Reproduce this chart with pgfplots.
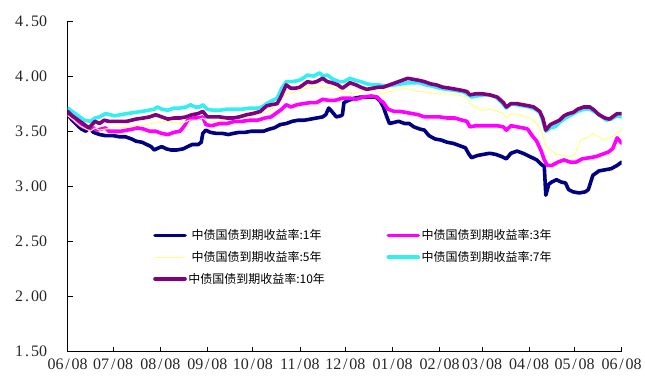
\documentclass[border=0pt]{standalone}
\usepackage{pgfplots}
\pgfplotsset{compat=1.18}
\usepackage{fontspec}
\setmainfont{Liberation Serif}
\newfontfamily\cjk{Noto Sans CJK SC}

\definecolor{c1y}{HTML}{000080}
\definecolor{c3y}{HTML}{FF00FF}
\definecolor{c5y}{HTML}{FFFF80}
\definecolor{c7y}{HTML}{33F0F0}
\definecolor{c10y}{HTML}{800080}

% fixed-width cell so that punctuation takes a full digit width
\newcommand{\cell}[1]{\makebox[0.5em][c]{#1}}

\begin{document}
\begin{tikzpicture}
\useasboundingbox (-67.7bp,-24.3bp) rectangle (577.3bp,351.7bp);
\begin{axis}[
  at={(0,0)}, anchor=south west,
  scale only axis, width=554bp, height=330.7bp,
  xmin=0, xmax=365, ymin=1.5, ymax=4.5,
  axis x line*=bottom, axis y line*=left,
  axis line style={line width=0.8bp, black},
  tick align=inside, major tick length=5bp,
  tick style={line width=0.8bp, black},
  xtick={0,30,61,92,122,153,183,214,245,273,304,334,365},
  xticklabels={06\cell{/}08,07\cell{/}08,08\cell{/}08,09\cell{/}08,10\cell{/}08,11\cell{/}08,12\cell{/}08,01\cell{/}08,02\cell{/}08,03\cell{/}08,04\cell{/}08,05\cell{/}08,06\cell{/}08},
  ytick={1.5,2,2.5,3,3.5,4,4.5},
  yticklabels={1\cell{.}50,2\cell{.}00,2\cell{.}50,3\cell{.}00,3\cell{.}50,4\cell{.}00,4\cell{.}50},
  tick label style={font=\fontsize{16bp}{18bp}\selectfont, text=black!85},
  yticklabel style={xshift=-17bp},
  xticklabel style={yshift=-4bp},
  legend columns=2,
  legend style={at={(0.1486,0.38)}, anchor=north west, draw=none, fill=none,
    font=\cjk\fontsize{12bp}{14bp}\selectfont, row sep=7bp,
    nodes={inner sep=1.5bp},
    /tikz/every even column/.append style={column sep=60bp}},
  legend image code/.code={\draw[#1, line cap=round] (0bp,0bp) -- (30bp,0bp);},
  every axis plot/.append style={line join=round, line cap=round},
]

% 1-year yield
\addplot[c1y, line width=3.6bp] coordinates {
(0,3.65) (3,3.60) (6,3.56) (9,3.52) (12,3.50) (14,3.53) (17,3.49) (21,3.47) (25,3.46) (30,3.46)
(34,3.45) (38,3.45) (42,3.43) (45,3.41) (49,3.40) (52,3.38) (55,3.36) (57,3.33) (60,3.35) (62,3.36)
(65,3.34) (68,3.33) (72,3.33) (76,3.34) (79,3.36) (82,3.38) (86,3.38) (88,3.40) (89,3.48) (91,3.51)
(94,3.49) (98,3.48) (102,3.48) (106,3.47) (109,3.48) (113,3.49) (117,3.49) (121,3.50) (125,3.50) (129,3.50)
(133,3.52) (136,3.53) (140,3.56) (144,3.57) (148,3.59) (152,3.60) (156,3.60) (160,3.61) (164,3.62) (168,3.63)
(170,3.65) (172,3.71) (174,3.68) (177,3.63) (180,3.64) (181,3.65) (182,3.76) (185,3.78) (189,3.80) (193,3.81)
(198,3.81) (203,3.81) (206,3.77) (208,3.72) (210,3.64) (212,3.57) (215,3.58) (218,3.59) (222,3.57) (225,3.57)
(228,3.54) (232,3.52) (235,3.51) (238,3.46) (242,3.43) (246,3.42) (250,3.40) (254,3.39) (258,3.37) (262,3.35)
(264,3.30) (266,3.26) (270,3.28) (274,3.29) (278,3.30) (282,3.29) (286,3.27) (289,3.25) (292,3.30) (296,3.32)
(300,3.30) (303,3.28) (306,3.26) (309,3.24) (312,3.20) (314,3.18) (315,2.92) (317,3.02) (319,3.04) (322,3.06)
(325,3.04) (328,3.03) (330,2.97) (333,2.95) (337,2.94) (341,2.95) (343,2.97) (346,3.10) (350,3.14) (354,3.15)
(358,3.16) (362,3.19) (365,3.22)
};
\addlegendentry{中债国债到期收益率:1年}

% 3-year yield
\addplot[c3y, line width=3.6bp] coordinates {
(0,3.66) (3,3.62) (6,3.58) (10,3.54) (14,3.52) (17,3.53) (19,3.51) (22,3.52) (25,3.53) (27,3.50)
(31,3.50) (35,3.50) (39,3.51) (43,3.52) (46,3.53) (50,3.52) (54,3.50) (58,3.50) (62,3.48) (66,3.47)
(70,3.49) (74,3.50) (77,3.55) (79,3.60) (83,3.62) (87,3.62) (89,3.63) (91,3.56) (95,3.55) (100,3.57)
(105,3.57) (110,3.59) (115,3.59) (120,3.60) (125,3.60) (130,3.62) (134,3.63) (138,3.67) (141,3.70) (144,3.74)
(147,3.72) (151,3.74) (155,3.75) (160,3.76) (164,3.76) (168,3.79) (172,3.78) (176,3.78) (181,3.80) (186,3.80)
(190,3.79) (195,3.81) (200,3.82) (204,3.81) (206,3.78) (208,3.76) (211,3.70) (215,3.68) (219,3.68) (223,3.67)
(227,3.66) (231,3.65) (235,3.63) (240,3.63) (245,3.63) (250,3.62) (255,3.62) (260,3.60) (263,3.59) (265,3.54)
(269,3.55) (273,3.55) (278,3.55) (283,3.55) (287,3.54) (289,3.51) (292,3.55) (296,3.54) (300,3.53) (303,3.52)
(306,3.46) (309,3.41) (312,3.32) (314,3.24) (316,3.19) (319,3.19) (323,3.22) (327,3.24) (331,3.22) (335,3.22)
(339,3.25) (344,3.26) (348,3.27) (352,3.29) (356,3.31) (359,3.34) (362,3.44) (365,3.39)
};
\addlegendentry{中债国债到期收益率:3年}

% 5-year yield
\addplot[c5y, line width=1bp] coordinates {
(0,3.64) (4,3.60) (8,3.55) (12,3.52) (15,3.50) (18,3.53) (21,3.51) (25,3.52) (30,3.53) (35,3.53)
(40,3.54) (45,3.56) (50,3.55) (55,3.57) (60,3.58) (65,3.59) (70,3.58) (75,3.57) (80,3.60) (85,3.60)
(89,3.62) (92,3.59) (97,3.59) (102,3.60) (108,3.61) (114,3.62) (120,3.63) (126,3.65) (131,3.67) (136,3.72)
(141,3.80) (144,3.84) (148,3.85) (153,3.87) (158,3.89) (162,3.90) (166,3.90) (170,3.89) (174,3.90) (178,3.87)
(181,3.86) (185,3.85) (188,3.84) (192,3.86) (197,3.87) (202,3.86) (207,3.84) (212,3.86) (217,3.87) (222,3.89)
(226,3.88) (230,3.86) (234,3.86) (239,3.85) (244,3.84) (250,3.84) (256,3.83) (260,3.82) (263,3.81) (265,3.75)
(269,3.72) (273,3.69) (278,3.70) (283,3.68) (287,3.66) (289,3.62) (292,3.66) (296,3.65) (300,3.64) (304,3.62)
(307,3.60) (310,3.55) (313,3.47) (315,3.36) (318,3.33) (322,3.29) (326,3.28) (330,3.27) (334,3.28) (336,3.36)
(338,3.42) (342,3.44) (346,3.48) (349,3.46) (353,3.42) (357,3.44) (361,3.47) (365,3.51)
};
\addlegendentry{中债国债到期收益率:5年}

% 7-year yield
\addplot[c7y, line width=3.6bp] coordinates {
(0,3.71) (3,3.68) (5,3.66) (8,3.63) (11,3.60) (15,3.59) (18,3.62) (21,3.63) (25,3.66) (28,3.65)
(31,3.64) (35,3.65) (39,3.66) (44,3.67) (49,3.68) (53,3.69) (57,3.70) (59,3.72) (62,3.70) (66,3.69)
(70,3.71) (74,3.71) (78,3.72) (81,3.74) (84,3.72) (87,3.72) (89,3.74) (92,3.70) (96,3.69) (100,3.69)
(105,3.70) (110,3.70) (115,3.70) (120,3.71) (125,3.71) (128,3.72) (131,3.75) (135,3.78) (138,3.80) (141,3.89)
(144,3.95) (148,3.95) (152,3.96) (155,3.98) (158,4.01) (162,4.00) (166,4.03) (168,4.00) (171,4.01) (175,3.97)
(179,3.95) (182,3.95) (186,3.98) (190,3.96) (193,3.95) (197,3.93) (201,3.92) (205,3.92) (210,3.91) (215,3.92)
(220,3.93) (224,3.94) (228,3.94) (232,3.94) (236,3.92) (240,3.91) (245,3.89) (250,3.88) (255,3.87) (260,3.86)
(263,3.84) (266,3.81) (270,3.82) (274,3.83) (278,3.83) (282,3.81) (286,3.76) (289,3.71) (292,3.75) (296,3.74)
(300,3.73) (304,3.72) (308,3.70) (311,3.67) (313,3.60) (315,3.50) (318,3.53) (321,3.54) (324,3.58) (328,3.62)
(332,3.65) (336,3.68) (340,3.70) (344,3.70) (348,3.67) (352,3.63) (355,3.60) (358,3.61) (362,3.64) (365,3.63)
};
\addlegendentry{中债国债到期收益率:7年}

% 10-year yield
\addplot[c10y, line width=3.6bp] coordinates {
(0,3.68) (3,3.64) (5,3.62) (8,3.59) (11,3.56) (14,3.53) (16,3.56) (18,3.59) (21,3.57) (24,3.60)
(27,3.59) (31,3.59) (35,3.59) (39,3.59) (45,3.61) (50,3.62) (54,3.63) (58,3.65) (62,3.63) (66,3.61)
(70,3.62) (74,3.62) (78,3.63) (82,3.65) (86,3.66) (89,3.68) (92,3.63) (96,3.63) (100,3.63) (105,3.62)
(109,3.62) (113,3.63) (118,3.65) (122,3.66) (127,3.68) (131,3.73) (134,3.74) (138,3.75) (140,3.80) (142,3.86)
(144,3.92) (147,3.89) (150,3.89) (153,3.90) (156,3.93) (158,3.95) (161,3.94) (164,3.95) (168,3.98) (171,3.95)
(174,3.94) (178,3.92) (181,3.89) (184,3.92) (186,3.94) (190,3.92) (193,3.90) (197,3.88) (201,3.89) (205,3.90)
(208,3.90) (212,3.92) (216,3.94) (220,3.96) (224,3.98) (228,3.97) (232,3.96) (235,3.95) (239,3.93) (243,3.92)
(247,3.90) (252,3.89) (256,3.88) (260,3.87) (263,3.86) (265,3.83) (269,3.84) (273,3.84) (278,3.83) (283,3.81)
(287,3.76) (289,3.72) (292,3.75) (296,3.75) (300,3.74) (304,3.73) (307,3.72) (311,3.68) (313,3.62) (315,3.51)
(318,3.56) (321,3.58) (324,3.60) (327,3.64) (330,3.66) (333,3.67) (336,3.70) (340,3.72) (344,3.72) (347,3.69)
(350,3.65) (354,3.62) (357,3.61) (359,3.63) (362,3.66) (365,3.66)
};
\addlegendentry{中债国债到期收益率:10年}

\end{axis}
\end{tikzpicture}
\end{document}
